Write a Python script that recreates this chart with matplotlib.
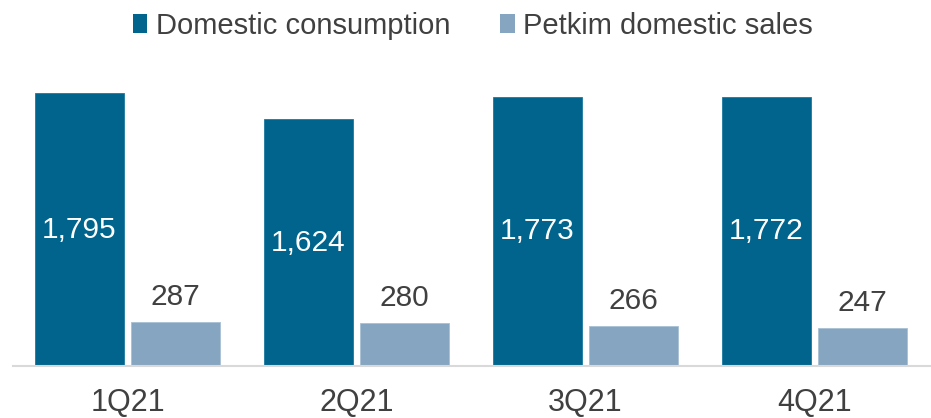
import matplotlib
matplotlib.use("Agg")
import matplotlib.pyplot as plt
import numpy as np
from matplotlib.patches import Patch

categories = ["1Q21", "2Q21", "3Q21", "4Q21"]
domestic = [1795, 1624, 1773, 1772]
petkim = [287, 280, 266, 247]
series_names = ["Domestic consumption", "Petkim domestic sales"]

c_dark = "#00648C"
c_light = "#86A5C0"
txt = "#404040"

plt.rcParams['font.family'] = ['Liberation Sans', 'DejaVu Sans']

fig = plt.figure(figsize=(9.31, 4.18), dpi=100)
W, H = 931, 418
ax = fig.add_axes([13 / W, (H - 366) / H, (931 - 13) / W, (366 - 60) / H])

x = np.arange(len(categories))
bw = 0.387
off = 0.2105
b1 = ax.bar(x - off, domestic, bw, color=c_dark, edgecolor="#1a7aa0", linewidth=0.6)
b2 = ax.bar(x + off, petkim, bw, color=c_light, edgecolor="#a8c0d4", linewidth=0.6)

ax.set_xlim(-0.5, 3.5 + (933 - 931) / 230)
ax.set_ylim(0, (366 - 60) / 0.152)

for xi, v in zip(x, domestic):
    ax.text(xi - off, v / 2, f"{v:,}", ha="center", va="center", color="white", fontsize=21.5)
for xi, v in zip(x, petkim):
    ax.text(xi + off, v + 11 / 0.152, f"{v:,}", ha="center", va="bottom", color=txt, fontsize=21.5)

for s in ["top", "right", "left"]:
    ax.spines[s].set_visible(False)
ax.spines["bottom"].set_color("#d9d9d9")
ax.spines["bottom"].set_linewidth(1.5)
ax.set_yticks([])
ax.set_xticks(x)
ax.set_xticklabels(categories, fontsize=22, color=txt)
ax.tick_params(axis="x", length=0, pad=16)

handles = [Patch(facecolor=c_dark, label=series_names[0]),
           Patch(facecolor=c_light, label=series_names[1])]
fig.legend(handles=handles, loc="upper center", bbox_to_anchor=(0.508, 1.035), ncol=2,
           frameon=False, fontsize=21, handlelength=0.5, handleheight=0.6,
           handletextpad=0.3, columnspacing=1.7, labelcolor=txt)

fig.savefig("out.png", dpi=100)
